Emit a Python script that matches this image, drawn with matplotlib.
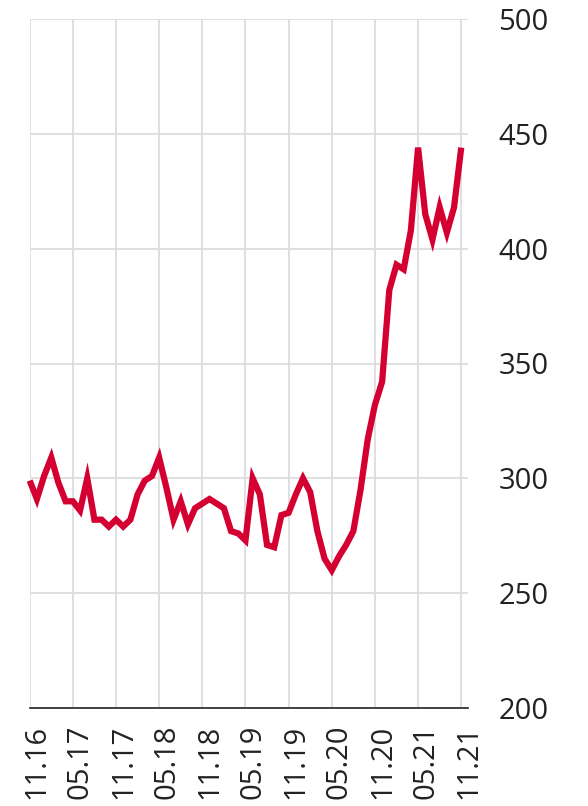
import numpy as np
import matplotlib
matplotlib.use('Agg')
import matplotlib.pyplot as plt
import matplotlib.transforms as mtransforms

plt.rcParams['font.family'] = ['Open Sans', 'DejaVu Sans']

# monthly values, 11.2016 .. 11.2021
values = [299, 291, 301, 309, 298, 290, 290, 286, 300, 282,
          282, 279, 282, 279, 282, 293, 299, 301, 309, 296,
          282, 290, 280, 287, 289, 291, 289, 287, 277, 276,
          273, 300, 293, 271, 270, 284, 285, 293, 300, 294,
          277, 265, 260, 266, 271, 277, 295, 317, 332, 342,
          382, 393, 391, 408, 444, 415, 404, 418, 407, 418,
          444]
months = np.arange(len(values))

tick_pos = [0, 6, 12, 18, 24, 30, 36, 42, 48, 54, 60]
tick_labels = ['11.16', '05.17', '11.17', '05.18', '11.18', '05.19',
               '11.19', '05.20', '11.20', '05.21', '11.21']
y_ticks = [200, 250, 300, 350, 400, 450, 500]

fig = plt.figure(figsize=(5.88, 8.06), dpi=100)
ax = fig.add_axes([29.7 / 588, 98 / 806, 438 / 588, 689 / 806])

ax.plot(months, values, color='#d50032', linewidth=4.5,
        solid_joinstyle='miter', solid_capstyle='butt', zorder=3, clip_on=False)

ax.set_xlim(0, 60.9)
ax.set_ylim(200, 500)
ax.set_xticks(tick_pos)
ax.set_xticklabels(tick_labels, rotation=90, va='top', ha='center')
ax.set_yticks(y_ticks)
ax.yaxis.tick_right()

ax.grid(True, color='#dddddd', linewidth=1.3)
ax.set_axisbelow(True)
for s in ['left', 'right', 'top']:
    ax.spines[s].set_visible(False)
ax.spines['bottom'].set_color('#222222')
ax.spines['bottom'].set_linewidth(1.2)

ax.tick_params(axis='both', length=0, labelsize=21, colors='#222222')
ax.tick_params(axis='y', pad=22)
ax.tick_params(axis='x', pad=12)

# nudge the rotated date labels a little to the right
shift = mtransforms.ScaledTranslation(0.075, 0, fig.dpi_scale_trans)
for lbl in ax.get_xticklabels():
    lbl.set_transform(lbl.get_transform() + shift)

fig.savefig('out.png', dpi=100)
